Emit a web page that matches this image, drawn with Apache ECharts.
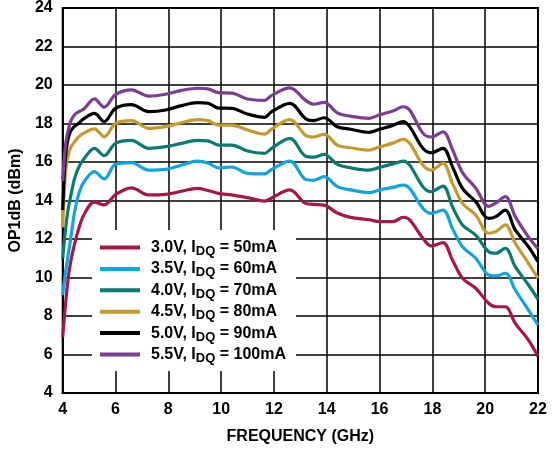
<!DOCTYPE html>
<html>
<head>
<meta charset="utf-8">
<script src="https://cdn.jsdelivr.net/npm/echarts@6/dist/echarts.min.js"></script>
<style>html,body{margin:0;padding:0;background:#fff}#c{width:560px;height:450px}</style>
</head>
<body>
<div id="c"></div>
<script>
var freq = [4.0, 4.1, 4.2, 4.3, 4.45, 4.6, 4.8, 5.2, 5.57, 6.0, 6.6, 7.26, 7.9, 8.5, 9.1, 9.5, 9.9, 10.4, 11.0, 11.65, 11.9, 12.6, 13.2, 13.5, 13.9, 14.4, 14.9, 15.6, 16.0, 16.5, 16.9, 17.14, 17.64, 17.95, 18.4, 18.76, 19.14, 19.64, 20.13, 20.4, 20.76, 21.14, 21.64, 22.0];

var v30 = [6.9, 8.5, 9.87, 10.8, 11.75, 12.5, 13.25, 13.92, 13.77, 14.3, 14.66, 14.29, 14.32, 14.48, 14.63, 14.52, 14.37, 14.29, 14.15, 13.97, 14.12, 14.55, 13.85, 13.8, 13.76, 13.35, 13.12, 13.0, 12.9, 12.9, 13.13, 12.99, 12.04, 11.64, 11.81, 10.91, 9.96, 9.44, 8.66, 8.48, 8.48, 7.62, 6.75, 5.9];
var v35 = [9.1, 10.2, 11.1, 12.0, 13.4, 14.3, 14.95, 15.5, 15.12, 15.88, 15.97, 15.58, 15.62, 15.84, 16.05, 15.95, 15.7, 15.74, 15.41, 15.38, 15.6, 16.05, 15.1, 15.05, 15.24, 14.72, 14.55, 14.41, 14.55, 14.68, 14.8, 14.63, 13.6, 13.33, 13.5, 12.55, 11.6, 11.0, 10.13, 10.08, 10.22, 9.35, 8.31, 7.53];
var v40 = [11.0, 12.4, 13.5, 14.2, 15.15, 15.7, 16.15, 16.71, 16.33, 16.97, 17.12, 16.71, 16.8, 16.97, 17.12, 17.1, 16.88, 16.88, 16.57, 16.45, 16.7, 17.23, 16.3, 16.25, 16.4, 15.88, 15.7, 15.58, 15.72, 15.9, 16.05, 15.84, 14.72, 14.46, 14.75, 13.68, 12.73, 12.2, 11.34, 11.26, 11.52, 10.56, 9.61, 8.87];
var v45 = [12.6, 15.4, 16.3, 16.75, 17.05, 17.3, 17.5, 17.72, 17.31, 18.0, 18.15, 17.75, 17.84, 18.04, 18.2, 18.15, 17.92, 17.92, 17.66, 17.45, 17.7, 18.2, 17.38, 17.3, 17.44, 16.88, 16.74, 16.62, 16.78, 16.98, 17.18, 16.97, 15.84, 15.58, 15.93, 14.89, 13.85, 13.25, 12.3, 12.38, 12.73, 11.78, 10.74, 9.96];
var v50 = [13.5, 16.2, 17.2, 17.6, 17.85, 18.0, 18.25, 18.53, 18.1, 18.79, 18.98, 18.62, 18.7, 18.93, 19.08, 19.05, 18.8, 18.79, 18.49, 18.32, 18.6, 19.05, 18.25, 18.15, 18.3, 17.83, 17.7, 17.54, 17.7, 17.9, 18.1, 17.84, 16.71, 16.48, 16.71, 15.76, 14.63, 13.94, 13.07, 13.16, 13.5, 12.47, 11.6, 10.82];
var v55 = [15.0, 16.8, 17.6, 18.1, 18.45, 18.6, 18.75, 19.28, 18.85, 19.5, 19.75, 19.42, 19.52, 19.72, 19.83, 19.8, 19.6, 19.58, 19.27, 19.2, 19.45, 19.85, 19.2, 19.0, 19.1, 18.55, 18.38, 18.27, 18.45, 18.65, 18.87, 18.7, 17.5, 17.3, 17.57, 16.65, 15.45, 14.65, 13.7, 13.87, 14.2, 13.16, 12.1, 11.5];

var seriesNames = ['3.0V, IDQ = 50mA', '3.5V, IDQ = 60mA', '4.0V, IDQ = 70mA', '4.5V, IDQ = 80mA', '5.0V, IDQ = 90mA', '5.5V, IDQ = 100mA'];
var seriesValues = [v30, v35, v40, v45, v50, v55];
var seriesColors = ['#a5174a', '#10a5dd', '#0b7b72', '#c49a2f', '#000000', '#7c3e92'];

var xTicks = [4, 6, 8, 10, 12, 14, 16, 18, 20, 22];
var yTicks = [4, 6, 8, 10, 12, 14, 16, 18, 20, 22, 24];

var FONT = '"Liberation Sans", Arial, sans-serif';

var chart = echarts.init(document.getElementById('c'), null, {renderer: 'canvas'});

var series = seriesNames.map(function (name, i) {
  return {
    name: name,
    type: 'line',
    smooth: 0.35,
    showSymbol: false,
    symbol: 'none',
    lineStyle: {color: seriesColors[i], width: 3.2},
    itemStyle: {color: seriesColors[i]},
    data: freq.map(function (f, k) { return [f, seriesValues[i][k]]; }),
    z: 2
  };
});

chart.setOption({
  animation: false,
  backgroundColor: '#fff',
  grid: {left: 58, top: 8, width: 480, height: 385, show: true, borderColor: '#000', borderWidth: 2, backgroundColor: 'transparent'},
  xAxis: {
    type: 'value', min: xTicks[0], max: xTicks[xTicks.length - 1], interval: 2,
    name: 'FREQUENCY (GHz)', nameLocation: 'middle', nameGap: 36,
    nameTextStyle: {fontFamily: FONT, fontWeight: 'bold', fontSize: 16, color: '#000'},
    axisLine: {lineStyle: {color: '#000', width: 2}},
    axisTick: {show: false},
    axisLabel: {fontFamily: FONT, fontWeight: 'bold', fontSize: 16, color: '#000', margin: 9},
    splitLine: {show: true, lineStyle: {color: '#000', width: 1.5}}
  },
  yAxis: {
    type: 'value', min: yTicks[0], max: yTicks[yTicks.length - 1], interval: 2,
    name: 'OP1dB (dBm)', nameLocation: 'middle', nameGap: 33,
    nameTextStyle: {fontFamily: FONT, fontWeight: 'bold', fontSize: 16, color: '#000'},
    axisLine: {lineStyle: {color: '#000', width: 2}},
    axisTick: {show: false},
    axisLabel: {fontFamily: FONT, fontWeight: 'bold', fontSize: 16, color: '#000', margin: 10},
    splitLine: {show: true, lineStyle: {color: '#000', width: 1.5}}
  },
  legend: {
    show: true,
    orient: 'vertical',
    left: 92, top: 230,
    padding: [7, 10, 6, 8],
    backgroundColor: '#fff',
    itemGap: 0.4,
    itemWidth: 40, itemHeight: 4,
    icon: 'rect',
    data: seriesNames,
    formatter: function (name) {
      var p = name.split('IDQ');
      return p[0] + 'I{sub|DQ}' + p[1];
    },
    textStyle: {
      fontFamily: FONT, fontWeight: 'bold', fontSize: 16, color: '#000', lineHeight: 18,
      padding: [0, 0, 0, 6],
      rich: {
        sub: {fontFamily: FONT, fontWeight: 'bold', fontSize: 13, color: '#000', padding: [8, 0, 0, 0], lineHeight: 18}
      }
    }
  },
  series: series
});
</script>
</body>
</html>
